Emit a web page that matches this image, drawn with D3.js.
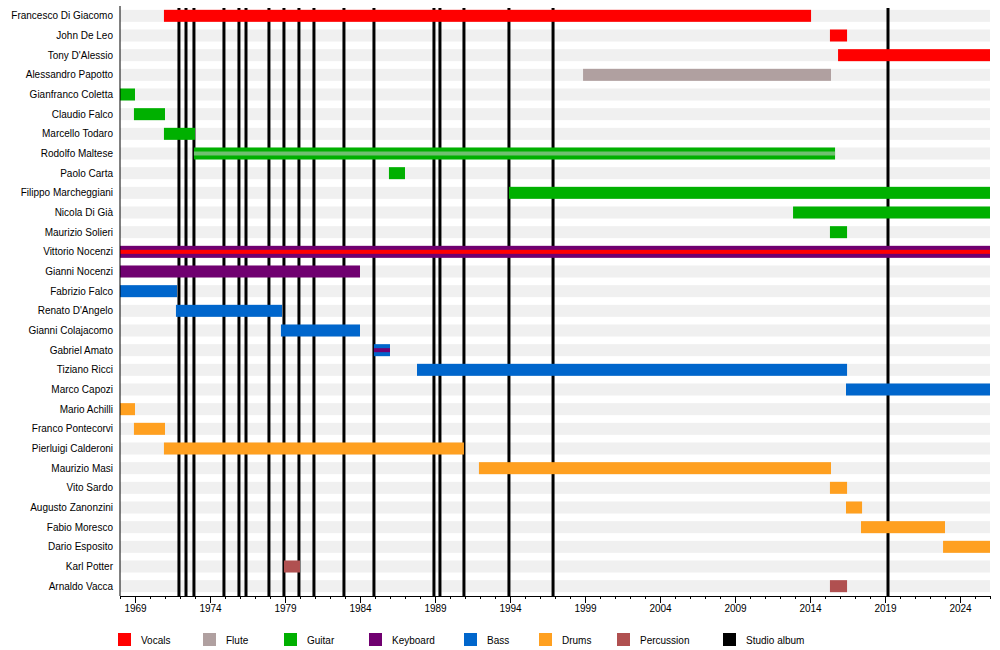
<!DOCTYPE html><html><head><meta charset="utf-8">
<script src="https://cdn.jsdelivr.net/npm/d3@7"></script>
<style>body{margin:0;background:#fff}text{font-family:"Liberation Sans",Arial,sans-serif}</style></head><body>
<svg id="c" width="1000" height="650"></svg>
<script>
const members=["Francesco Di Giacomo","John De Leo","Tony D'Alessio","Alessandro Papotto","Gianfranco Coletta","Claudio Falco","Marcello Todaro","Rodolfo Maltese","Paolo Carta","Filippo Marcheggiani","Nicola Di Già","Maurizio Solieri","Vittorio Nocenzi","Gianni Nocenzi","Fabrizio Falco","Renato D'Angelo","Gianni Colajacomo","Gabriel Amato","Tiziano Ricci","Marco Capozi","Mario Achilli","Franco Pontecorvi","Pierluigi Calderoni","Maurizio Masi","Vito Sardo","Augusto Zanonzini","Fabio Moresco","Dario Esposito","Karl Potter","Arnaldo Vacca"];
const roleNames=["Vocals","Flute","Guitar","Keyboard","Bass","Drums","Percussion","Studio album"];
const roleColors=["#ff0000","#b0a0a0","#00b000","#700070","#0066cc","#ffa020","#b05050","#000000"];
// [member, start, end, role, stripeRole]
const periods=[
["Francesco Di Giacomo",1970.93,2014.07,"Vocals",null],
["John De Leo",2015.33,2016.47,"Vocals",null],
["Tony D'Alessio",2015.87,2026,"Vocals",null],
["Alessandro Papotto",1998.87,2015.4,"Flute",null],
["Gianfranco Coletta",1968,1969,"Guitar",null],
["Claudio Falco",1968.93,1971,"Guitar",null],
["Marcello Todaro",1970.93,1973,"Guitar",null],
["Rodolfo Maltese",1972.93,2015.67,"Guitar","Flute"],
["Paolo Carta",1985.93,1987,"Guitar",null],
["Filippo Marcheggiani",1993.93,2026,"Guitar",null],
["Nicola Di Già",2012.87,2026,"Guitar",null],
["Maurizio Solieri",2015.33,2016.47,"Guitar",null],
["Vittorio Nocenzi",1968,2026,"Keyboard","Vocals"],
["Gianni Nocenzi",1968,1984,"Keyboard",null],
["Fabrizio Falco",1968,1971.8,"Bass",null],
["Renato D'Angelo",1971.73,1978.8,"Bass",null],
["Gianni Colajacomo",1978.73,1984,"Bass",null],
["Gabriel Amato",1984.93,1986,"Bass","Keyboard"],
["Tiziano Ricci",1987.8,2016.47,"Bass",null],
["Marco Capozi",2016.4,2026,"Bass",null],
["Mario Achilli",1968,1969,"Drums",null],
["Franco Pontecorvi",1968.93,1971,"Drums",null],
["Pierluigi Calderoni",1970.93,1990.93,"Drums",null],
["Maurizio Masi",1991.93,2015.4,"Drums",null],
["Vito Sardo",2015.33,2016.47,"Drums",null],
["Augusto Zanonzini",2016.4,2017.47,"Drums",null],
["Fabio Moresco",2017.4,2023,"Drums",null],
["Dario Esposito",2022.87,2026,"Drums",null],
["Karl Potter",1978.93,1980,"Percussion",null],
["Arnaldo Vacca",2015.33,2016.47,"Percussion",null]];
const albums=[1971.93,1972.4,1972.93,1974.93,1975.93,1976.4,1977.93,1978.93,1979.93,1980.93,1982.93,1984.93,1988.93,1989.33,1990.93,1993.93,1996.87,2019.2];
const tickYears=[1969,1974,1979,1984,1989,1994,1999,2004,2009,2014,2019,2024];

const svg=d3.select("#c");
const x=d3.scaleLinear().domain([1968,2026]).range([120,990]);
const y=d3.scaleBand().domain(members).range([6,596]).paddingInner(0);
const col=d3.scaleOrdinal().domain(roleNames).range(roleColors);
const bh=12;
// row stripes
svg.append("g").selectAll("rect").data(members).join("rect")
 .attr("x",120).attr("width",870).attr("y",d=>y(d)+y.bandwidth()/2-bh/2).attr("height",bh).attr("fill","#f0f0f0");
// albums
svg.append("g").selectAll("line").data(albums).join("line")
 .attr("x1",d=>x(d)).attr("x2",d=>x(d)).attr("y1",8).attr("y2",596).attr("stroke","#000").attr("stroke-width",3);
// bars
const g=svg.append("g");
g.selectAll("rect.m").data(periods).join("rect").attr("class","m")
 .attr("x",d=>x(d[1])).attr("width",d=>x(d[2])-x(d[1])).attr("y",d=>y(d[0])+y.bandwidth()/2-bh/2).attr("height",bh).attr("fill",d=>col(d[3]));
g.selectAll("rect.s").data(periods.filter(d=>d[4])).join("rect").attr("class","s")
 .attr("x",d=>x(d[1])).attr("width",d=>x(d[2])-x(d[1])).attr("y",d=>y(d[0])+y.bandwidth()/2-2).attr("height",4).attr("fill",d=>d[4]==="Flute"?"#70c070":col(d[4]));
// y labels
svg.append("g").selectAll("text").data(members).join("text")
 .attr("x",113).attr("y",d=>y(d)+y.bandwidth()/2+3.5).attr("text-anchor","end").attr("font-size",10).attr("fill","#000").text(d=>d);
// axes
svg.append("line").attr("x1",120).attr("x2",120).attr("y1",6).attr("y2",596).attr("stroke","#000");
const ax=d3.axisBottom(x).tickValues(d3.range(1968,2027)).tickSize(3).tickFormat(d=>tickYears.includes(d)?d:"");
const axg=svg.append("g").attr("transform","translate(0,596)").call(ax);
axg.selectAll(".tick line").attr("y2",d=>tickYears.includes(d)?7:3);
axg.selectAll("text").attr("font-size",10).attr("font-family","Liberation Sans, Arial").attr("dy","1em");
// legend
const lx=[118,203,284,369,464,539,617,723];
const lg=svg.append("g").selectAll("g").data(roleNames).join("g").attr("transform",(d,i)=>`translate(${lx[i]},633)`);
lg.append("rect").attr("width",13).attr("height",13).attr("fill",d=>col(d));
lg.append("text").attr("x",23).attr("y",11).attr("font-size",10).text(d=>d);
</script></body></html>
